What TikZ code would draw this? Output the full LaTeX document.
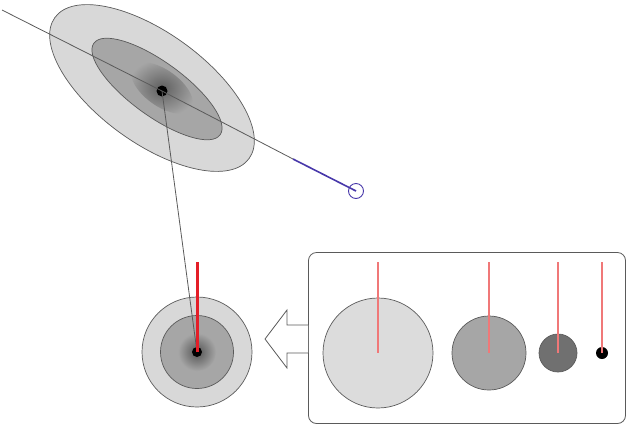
\documentclass[tikz,border=0pt]{standalone}
\usetikzlibrary{shapes.geometric}
\definecolor{lightfill}{RGB}{216,216,216}
\definecolor{midfill}{RGB}{166,166,166}
\definecolor{darkfill}{RGB}{112,112,112}
\definecolor{edgegray}{RGB}{90,90,90}
\definecolor{aimred}{RGB}{228,30,40}
\definecolor{palered}{RGB}{240,120,120}
\definecolor{lineblue}{RGB}{72,56,170}
\begin{document}
\begin{tikzpicture}[
    x=1pt, y=-1pt,
    blob/.style={ellipse, draw=edgegray, line width=0.7pt, inner sep=0pt, rotate=-36},
    disc/.style={circle, draw=edgegray, line width=0.7pt, inner sep=0pt},
    dot/.style={circle, fill=black, inner sep=0pt},
    aim/.style={line width=3pt, aimred},
    thin aim/.style={line width=1.3pt, palered},
    link/.style={line width=0.8pt, edgegray}
]
\useasboundingbox (0,0) rectangle (627,432);

% Scatter ellipses
\node[blob, fill=lightfill, minimum width=240, minimum height=110] (outer) at (152,88) {};
\node[blob, fill=midfill, minimum width=156, minimum height=54] (middle) at (157,89) {};
\node[ellipse, rotate=-36, inner sep=0pt, minimum width=72, minimum height=36,
      inner color=darkfill!85!black, outer color=midfill] (core) at (162,88) {};
\node[dot, minimum size=11] (mean) at (162,91) {};

% Line of sight
\coordinate (lstart) at (2,10);
\coordinate (bend) at (293,159);
\node[circle, draw=lineblue, line width=0.9pt, minimum size=15, inner sep=0pt] (goal) at (356,191) {};
\draw[link] (lstart) -- (mean.center) -- (bend);
\draw[line width=1.6pt, lineblue] (bend) -- (goal.center);

% Target
\node[disc, fill=lightfill, minimum size=110] (ring) at (197,352) {};
\node[disc, fill=midfill, minimum size=73] (inner) at (197,352) {};
\node[circle, inner sep=0pt, minimum size=38, inner color=darkfill!75!black, outer color=midfill] (spot) at (197,352) {};
\node[dot, minimum size=10] (hit) at (197,352) {};
\coordinate (hittop) at (197,262);
\draw[link] (mean.center) -- (hit.center);
\draw[aim] (hittop) -- (hit.center);

% Panel
\node[draw=edgegray, line width=0.8pt, rounded corners=8pt, minimum width=317, minimum height=171, inner sep=0pt] (panel) at (467,338) {};
\node[disc, fill=lightfill!90!white, minimum size=110] (c1) at (378,353) {};
\node[disc, fill=midfill, minimum size=74] (c2) at (489,353) {};
\node[disc, fill=darkfill, minimum size=38] (c3) at (558,353) {};
\node[dot, minimum size=12] (c4) at (602,353) {};
\foreach \c in {c1,c2,c3,c4}
  \draw[thin aim] (\c.center |- 0,262) -- (\c.center);

% Arrow
\draw[line width=0.8pt, edgegray, fill=white]
  (panel.west |- 0,325) -- (287,325) -- (287,310) -- (265,339)
  -- (287,368) -- (287,353) -- (panel.west |- 0,353);
\end{tikzpicture}
\end{document}
